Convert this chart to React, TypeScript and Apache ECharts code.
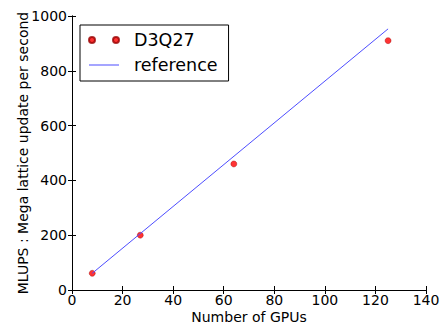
import React, { useEffect, useRef } from "react";
import * as echarts from "echarts";

const gpus = [8, 27, 64, 125];
const mlups = [61, 200, 460, 910];
const refGpus = [8, 125];
const refMlups = [61, 953];

const xTicks = { min: 0, max: 140, interval: 20 };
const yTicks = { min: 0, max: 1000, interval: 200 };

const FONT = "DejaVu Sans";

export default function App() {
  const ref = useRef<HTMLDivElement>(null);
  useEffect(() => {
    if (!ref.current) return;
    const chart = echarts.init(ref.current, undefined, { renderer: "svg" });
    const axisLine = { show: true, lineStyle: { color: "#000", width: 1 } };
    const tick = { show: true, inside: true, length: 4, lineStyle: { color: "#000", width: 1 } };
    const label = { color: "#000", fontFamily: FONT, fontSize: 14, formatter: (v: number) => String(v) };
    chart.setOption({
      animation: false,
      backgroundColor: "#fff",
      grid: { left: 72, right: 15, top: 16, bottom: 34, containLabel: false, outerBoundsMode: "none" },
      legend: {
        left: 80,
        top: 25,
        orient: "vertical",
        backgroundColor: "#fff",
        borderColor: "#000",
        borderWidth: 1,
        borderRadius: 0,
        padding: [6, 11, 7, 8],
        itemGap: 7,
        itemWidth: 30,
        itemHeight: 10,
        textStyle: { fontFamily: FONT, fontSize: 17.5, color: "#000", padding: [0, 0, 0, 10] },
        data: [
          {
            name: "D3Q27",
            icon: "path://M0,5 a3,3 0 1,0 6,0 a3,3 0 1,0 -6,0 Z M24,5 a3,3 0 1,0 6,0 a3,3 0 1,0 -6,0 Z M0,0 L0.01,0 Z M30,10 L29.99,10 Z",
          },
          {
            name: "reference",
            icon: "path://M0,4.5 L30,4.5 L30,5.5 L0,5.5 Z M0,0 L0.01,0 Z M30,10 L29.99,10 Z",
          },
        ],
      },
      xAxis: [
        {
          type: "value",
          min: xTicks.min,
          max: xTicks.max,
          interval: xTicks.interval,
          name: "Number of GPUs",
          nameLocation: "middle",
          nameGap: 20,
          nameMoveOverlap: false,
          nameTextStyle: { fontFamily: FONT, fontSize: 14, color: "#000" },
          axisLine,
          axisTick: tick,
          axisLabel: { ...label, margin: 3 },
          splitLine: { show: false },
        },
        {
          type: "value",
          position: "top",
          min: xTicks.min,
          max: xTicks.max,
          interval: xTicks.interval,
          axisLine,
          axisTick: tick,
          axisLabel: { show: false },
          splitLine: { show: false },
        },
      ],
      yAxis: [
        {
          type: "value",
          min: yTicks.min,
          max: yTicks.max,
          interval: yTicks.interval,
          name: "MLUPS : Mega lattice update per second",
          nameLocation: "middle",
          nameGap: 42,
          nameMoveOverlap: false,
          nameTextStyle: { fontFamily: FONT, fontSize: 14, color: "#000" },
          axisLine,
          axisTick: tick,
          axisLabel: { ...label, margin: 5 },
          splitLine: { show: false },
        },
        {
          type: "value",
          position: "right",
          min: yTicks.min,
          max: yTicks.max,
          interval: yTicks.interval,
          axisLine,
          axisTick: tick,
          axisLabel: { show: false },
          splitLine: { show: false },
        },
      ],
      series: [
        {
          name: "D3Q27",
          type: "scatter",
          data: gpus.map((g, i) => [g, mlups[i]]),
          symbol: "circle",
          symbolSize: 6,
          itemStyle: { color: "#ff0000", borderColor: "#900", borderWidth: 0.5 },
        },
        {
          name: "reference",
          type: "line",
          data: refGpus.map((g, i) => [g, refMlups[i]]),
          symbol: "none",
          showSymbol: false,
          lineStyle: { color: "#4d4dff", width: 1 },
          itemStyle: { color: "#4d4dff" },
        },
      ],
    });
    return () => chart.dispose();
  }, []);
  return <div ref={ref} style={{ width: 441, height: 324, position: "absolute", left: 0, top: 0 }} />;
}
